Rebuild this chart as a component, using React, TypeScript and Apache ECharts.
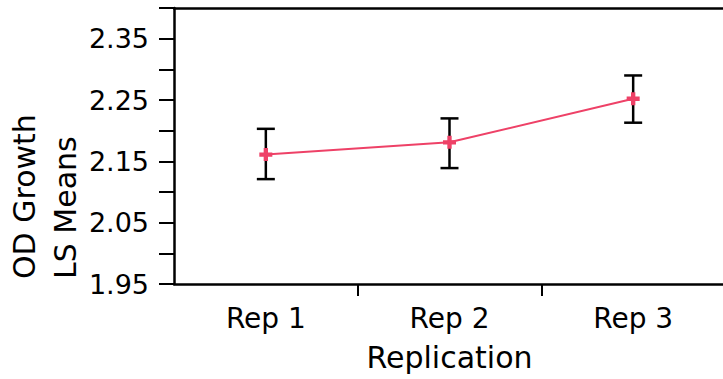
import React, { useEffect, useRef } from "react";
import * as echarts from "echarts";

const categories = ["Rep 1", "Rep 2", "Rep 3"];
const means = [2.161, 2.181, 2.252];
const lower = [2.121, 2.139, 2.213];
const upper = [2.203, 2.22, 2.29];
const yLabels = ["1.95", "2.05", "2.15", "2.25", "2.35"];
const yTitleLines = ["OD Growth", "LS Means"];
const xTitle = "Replication";

const FONT = '"DejaVu Sans", sans-serif';
const LINE_COLOR = "#EE4167";

export default function App() {
  const ref = useRef<HTMLDivElement>(null);
  useEffect(() => {
    if (!ref.current) return;
    const chart = echarts.init(ref.current, null, { renderer: "svg" });
    const option: any = {
      animation: false,
      backgroundColor: "#fff",
      grid: {
        left: 174,
        top: 8,
        width: 551,
        height: 276,
        containLabel: false,
        outerBoundsMode: "none",
      },
      xAxis: [
        {
          type: "category",
          data: categories,
          position: "bottom",
          boundaryGap: true,
          axisLine: { show: true, lineStyle: { color: "#000", width: 2.5 } },
          axisTick: {
            show: true,
            length: 12,
            inside: false,
            interval: (index: number) => index !== 0,
            lineStyle: { color: "#000", width: 2 },
          },
          axisLabel: { color: "#000", fontSize: 28, fontFamily: FONT, margin: 20 },
          name: xTitle,
          nameLocation: "middle",
          nameGap: 58,
          nameTextStyle: { color: "#000", fontSize: 30, fontFamily: FONT },
          splitLine: { show: false },
        },
        {
          type: "category",
          data: categories,
          position: "top",
          axisLine: { show: true, lineStyle: { color: "#000", width: 2.5 } },
          axisTick: { show: false },
          axisLabel: { show: false },
          splitLine: { show: false },
        },
      ],
      yAxis: {
        type: "value",
        min: 1.95,
        max: 2.4,
        interval: 0.05,
        axisLine: { show: true, lineStyle: { color: "#000", width: 2.5 } },
        axisTick: { show: true, length: 15, inside: false, lineStyle: { color: "#000", width: 2 } },
        axisLabel: {
          color: "#000",
          fontSize: 27,
          fontFamily: FONT,
          margin: 25,
          formatter: (v: number) => {
            const s = v.toFixed(2);
            return yLabels.includes(s) ? s : "";
          },
        },
        splitLine: { show: false },
      },
      graphic: yTitleLines.map((t, i) => ({
        type: "text",
        x: i === 0 ? 24 : 65,
        y: 279,
        rotation: Math.PI / 2,
        style: {
          text: t,
          fill: "#000",
          fontSize: 30,
          fontFamily: FONT,
          align: "left",
          verticalAlign: "middle",
        },
      })),
      series: [
        {
          type: "custom",
          z: 2,
          data: categories.map((c, i) => [i, lower[i], upper[i]]),
          encode: { x: 0, y: [1, 2] },
          renderItem: (params: any, api: any) => {
            const x = api.value(0);
            const lo = api.coord([x, api.value(1)]);
            const hi = api.coord([x, api.value(2)]);
            const half = 9;
            const style = { stroke: "#000", lineWidth: 2.5 };
            return {
              type: "group",
              children: [
                { type: "line", shape: { x1: lo[0], y1: lo[1], x2: hi[0], y2: hi[1] }, style },
                { type: "line", shape: { x1: lo[0] - half, y1: lo[1], x2: lo[0] + half, y2: lo[1] }, style },
                { type: "line", shape: { x1: hi[0] - half, y1: hi[1], x2: hi[0] + half, y2: hi[1] }, style },
              ],
            };
          },
        },
        {
          type: "line",
          z: 3,
          data: means,
          symbol: "path://M4,0H8V4H12V8H8V12H4V8H0V4H4Z",
          symbolSize: 13,
          itemStyle: { color: LINE_COLOR },
          lineStyle: { color: LINE_COLOR, width: 2 },
        },
      ],
    };
    chart.setOption(option);
    return () => chart.dispose();
  }, []);
  return (
    <div
      ref={ref}
      style={{ position: "fixed", left: 0, top: 0, width: 723, height: 379, background: "#fff" }}
    />
  );
}
